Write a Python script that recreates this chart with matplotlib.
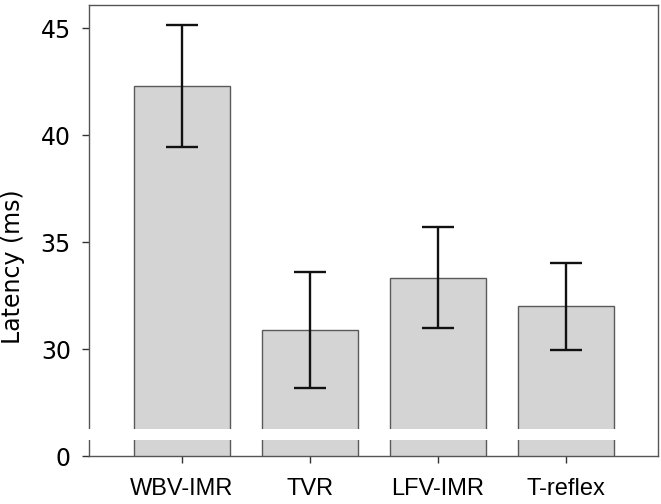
import matplotlib

matplotlib.use("Agg")
import matplotlib.pyplot as plt
import numpy as np

# reflex latency per condition (broken y axis: 0 then 30-45)
conditions = ["WBV-IMR", "TVR", "LFV-IMR", "T-reflex"]
latency = [42.3, 30.9, 33.35, 32.0]
latency_err = [2.85, 2.7, 2.35, 2.04]

AXIS_FLOOR = 25  # the value drawn where the "0" tick sits
ytick_vals = [25, 30, 35, 40, 45]
ytick_labels = ["0", "30", "35", "40", "45"]

fig = plt.figure(figsize=(6.61, 5.04), dpi=100)
ax = fig.add_axes([0.1346, 0.0952, 0.861, 0.895])

x = np.arange(len(conditions))
ax.bar(x, latency, width=0.75, color="#d4d4d4", edgecolor="#5a5a5a", linewidth=1.0, zorder=2)
ax.errorbar(x, latency, yerr=latency_err, fmt="none", ecolor="#111111",
            elinewidth=1.7, capsize=11.5, capthick=1.7, zorder=4)

ax.set_xlim(-0.727, 3.72)
ax.set_ylim(AXIS_FLOOR, 46.1)
ax.set_xticks(x)
ax.set_xticklabels(conditions, fontsize=17, family="Liberation Sans")
ax.set_yticks(ytick_vals)
ax.set_yticklabels(ytick_labels, fontsize=17)
ax.set_ylabel("Latency (ms)", fontsize=17)
ax.yaxis.set_label_coords(-0.112, 0.42)

for s in ax.spines.values():
    s.set_color("#555555")
    s.set_linewidth(1.0)
ax.tick_params(axis="both", length=5, width=1.0, color="#333333")
ax.tick_params(axis="x", pad=11)
ax.tick_params(axis="y", pad=8)

# axis break: white band across the left spine and the bars
ax.axhspan(25.73, 26.25, xmin=-0.005, xmax=0.95, color="white", clip_on=False,
           zorder=3, linewidth=0)

fig.savefig("out.png", dpi=100)
